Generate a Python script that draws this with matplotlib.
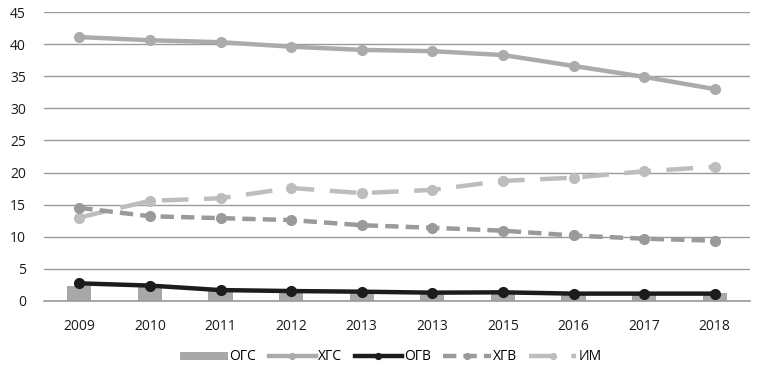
import matplotlib
matplotlib.use("Agg")
import matplotlib.pyplot as plt
import numpy as np

years = ["2009", "2010", "2011", "2012", "2013", "2013", "2015", "2016", "2017", "2018"]
ogs = [2.3, 2.3, 1.7, 1.5, 1.3, 1.1, 1.1, 0.9, 0.9, 1.2]
hgs = [41.1, 40.6, 40.3, 39.6, 39.1, 38.9, 38.3, 36.6, 34.9, 33.0]
ogv = [2.75, 2.4, 1.7, 1.55, 1.45, 1.3, 1.35, 1.15, 1.15, 1.15]
hgv = [14.5, 13.2, 12.9, 12.6, 11.8, 11.4, 10.95, 10.2, 9.7, 9.4]
im = [13.0, 15.6, 16.0, 17.6, 16.8, 17.3, 18.7, 19.2, 20.2, 20.9]

plt.rcParams['font.family'] = ['Open Sans', 'DejaVu Sans']

fig = plt.figure(figsize=(7.72, 3.72), dpi=100)
ax = fig.add_axes([44/772, 71/372, 706/772, 289/372])
x = np.arange(len(years))

h1 = ax.bar(x, ogs, width=0.34, color='#a8a8a8', label='ОГС', zorder=2)
h2, = ax.plot(x, hgs, color='#ababab', lw=3.2, marker='o', ms=7, label='ХГС', zorder=3)
h3, = ax.plot(x, ogv, color='#1c1c1c', lw=3.2, marker='o', ms=7, label='ОГВ', zorder=5)
h4, = ax.plot(x, hgv, color='#9a9a9a', lw=3.2, ls=(0, (3, 1.6)), marker='o', ms=7, label='ХГВ', zorder=4)
h5, = ax.plot(x, im, color='#bdbdbd', lw=3.2, ls=(0, (6, 3.5)), marker='o', ms=7, label='ИМ', zorder=3)

ax.set_xlim(-0.5, len(years) - 0.5)
ax.set_ylim(0, 45)
ax.set_yticks(range(0, 46, 5))
ax.set_xticks(x)
ax.set_xticklabels(years)
ax.yaxis.grid(True, color='#9a9a9a', lw=1)
ax.set_axisbelow(True)
for s in ['top', 'right', 'left']:
    ax.spines[s].set_visible(False)
ax.spines['bottom'].set_color('#9a9a9a')
ax.spines['bottom'].set_linewidth(1.2)
ax.tick_params(axis='both', length=0, labelsize=10, colors='#1a1a1a')
ax.tick_params(axis='y', pad=13)
ax.tick_params(axis='x', pad=13)

leg = fig.legend(handles=[h1, h2, h3, h4, h5], loc='center', bbox_to_anchor=(391/772, 1 - 357/372),
                 ncol=5, frameon=False, fontsize=10, handlelength=3.4, columnspacing=0.9,
                 handletextpad=0.15, markerscale=0.6, handleheight=0.5)

fig.savefig('out.png', dpi=100)
